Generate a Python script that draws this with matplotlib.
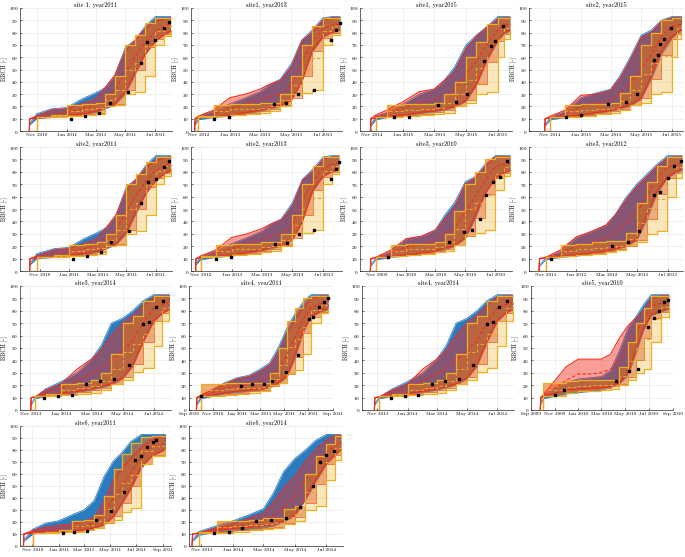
import numpy as np
import matplotlib
matplotlib.use('Agg')
import matplotlib.pyplot as plt
import matplotlib.dates as mdates

plt.rcParams['font.family'] = ['cmr10', 'DejaVu Serif']
plt.rcParams['axes.formatter.use_mathtext'] = True

#-------------------------------------------------------------------------
# data  (days are counted from 1 Sep of the sowing year)
#-------------------------------------------------------------------------

titles = ['site 1, year2011', 'site1, year2013', 'site1, year2015', 'site2, year2015',
          'site2, year2011', 'site2, year2013', 'site3, year2010', 'site3, year2012',
          'site3, year2014', 'site4, year2011', 'site4, year2014', 'site5, year2010',
          'site6, year2011', 'site6, year2014']
season = [2010, 2012, 2014, 2014, 2010, 2012, 2009, 2011, 2013, 2010, 2013, 2009, 2010, 2013]

grids = [
  [46, 47, 61, 91, 122, 153, 181, 200, 220, 242, 262, 282, 303, 320, 334],
  [54, 55, 61, 91, 122, 153, 181, 200, 220, 242, 262, 282, 303, 320, 336],
  [59, 60, 69, 91, 122, 153, 181, 200, 220, 242, 262, 282, 303, 315, 326],
  [50, 51, 61, 91, 122, 153, 181, 200, 220, 242, 262, 282, 303, 313, 322],
  [40, 41, 55, 91, 122, 153, 181, 200, 220, 242, 262, 282, 303, 320, 334],
  [51, 52, 61, 91, 122, 153, 181, 200, 220, 242, 262, 282, 303, 320, 334],
  [49, 50, 60, 91, 122, 153, 181, 200, 220, 242, 262, 282, 303, 320, 333],
  [48, 49, 61, 91, 122, 153, 181, 200, 220, 242, 262, 282, 303, 320, 332],
  [62, 63, 70, 91, 122, 153, 181, 200, 220, 242, 262, 282, 303, 320, 334],
  [19, 20, 30, 91, 122, 153, 181, 205, 228, 250, 270, 290, 310, 335, 354],
  [55, 56, 64, 91, 122, 153, 181, 200, 220, 242, 262, 282, 303, 320, 334],
  [24, 25, 31, 91, 122, 153, 181, 205, 228, 250, 270, 290, 310, 335, 355],
  [40, 41, 62, 91, 122, 153, 181, 205, 228, 250, 270, 290, 315, 340, 371],
  [43, 44, 56, 91, 122, 153, 181, 200, 220, 242, 262, 282, 303, 320, 331],
]
x_from = [27, 47, 39, 19, 20, 42, 28, 28, 41, 0, 30, 0, 32, 37]
x_to   = [337, 340, 330, 325, 337, 340, 337, 334, 337, 366, 337, 366, 384, 335]

tick_std  = [(0, 11), (1, 1), (1, 3), (1, 5), (1, 7)]
tick_long = [(0, 9), (0, 11), (1, 1), (1, 3), (1, 5), (1, 7), (1, 9)]
tick_nov_sep = [(0, 11), (1, 1), (1, 3), (1, 5), (1, 7), (1, 9)]
tick_sets = [tick_std] * 9 + [tick_long, tick_std, tick_long, tick_nov_sep, tick_std]

blue_lo = [
  [4, 5, 10, 11, 12, 13, 15, 18, 21, 30, 46, 62, 73, 78, 81],
  [4, 5, 9, 11, 12, 14, 16, 18, 20, 25, 40, 64, 76, 80, 82],
  [3, 4, 9, 11, 12, 14, 15.5, 17, 19, 24, 37, 57, 73, 79, 81],
  [3, 4, 9, 11, 12, 14, 16, 18, 20, 26, 42, 62, 75, 79, 81],
  [4, 5, 10, 11, 12, 13, 15, 18, 21, 30, 46, 62, 73, 78, 81],
  [4, 5, 9, 11, 12, 14, 16, 18, 20, 25, 40, 64, 76, 80, 82],
  [3, 4, 9, 11, 12, 14, 15.5, 17, 20, 26, 42, 62, 75, 79, 81],
  [3, 4, 9, 11, 12, 14, 15.5, 17, 19.5, 24.5, 41, 62, 75, 79, 81],
  [3, 4, 9, 11, 12.5, 14, 16, 18, 20, 25, 35, 54, 71, 78, 81],
  [3, 4, 9, 13, 14, 15, 16, 18, 21, 27, 42, 62, 75, 79, 81],
  [3, 4, 9, 11, 12.5, 14, 16, 18, 20, 25, 35, 54, 71, 78, 81],
  [3, 4, 9, 13, 14, 15, 16, 18, 21, 28, 45, 64, 76, 79, 81],
  [3, 4, 10, 11.5, 12, 12.5, 13, 14.5, 17.5, 24, 35, 47, 65, 75, 80],
  [3, 4, 9, 11.5, 12.5, 13.5, 15, 16.5, 20, 25, 38, 53, 68, 76, 80],
]
blue_hi = [
  [4, 6, 14, 18, 19, 26, 31, 35, 45, 68, 74, 85, 93, 93, 93],
  [4, 6, 12, 16, 22, 27, 32, 38, 42, 55, 74, 82, 92, 93, 93],
  [3, 5, 12, 15, 22, 30, 34, 41, 52, 70, 78, 85, 93, 93, 93],
  [3, 5, 11, 16, 27, 31, 34, 45, 60, 78, 82, 90, 93, 93, 93],
  [4, 6, 14, 18, 19, 26, 31, 35, 45, 68, 74, 85, 93, 93, 93],
  [4, 6, 12, 16, 22, 27, 32, 38, 42, 55, 74, 82, 92, 93, 93],
  [3, 5, 10, 16, 26, 28, 33, 45, 55, 72, 76, 86, 93, 93, 93],
  [3, 5, 10, 16, 27, 32, 37, 46, 59, 70, 78, 86, 93, 93, 93],
  [3, 5, 10, 17, 23, 30, 41, 52, 70, 74, 80, 88, 93, 93, 93],
  [3, 5, 11, 22, 26, 28, 33, 38, 51, 67, 78, 87, 93, 93, 93],
  [3, 5, 10, 17, 23, 30, 41, 52, 70, 74, 80, 88, 93, 93, 93],
  [3, 5, 12, 22, 25, 26, 27, 32, 48, 66, 75, 85, 93, 93, 93],
  [3, 5, 14, 19, 21, 26, 30, 38, 58, 71, 78, 87, 93, 93, 93],
  [3, 5, 12, 17, 21, 26, 31, 44, 62, 73, 80, 88, 93, 93, 93],
]
red_lo = [
  [0, 10, 10.5, 11.5, 13, 14, 16, 19, 22, 32, 48, 62, 73, 78, 81],
  [0, 10, 10.5, 12, 13, 15, 17, 19, 21, 25, 40, 65, 77, 80, 82],
  [0, 10, 10.5, 12, 13, 15, 16.5, 18, 20, 25, 38, 58, 74, 80, 82],
  [0, 10, 10.5, 12, 13, 15, 17, 19, 21, 27, 45, 65, 77, 80, 82],
  [0, 10, 10.5, 11.5, 13, 14, 16, 19, 22, 32, 48, 62, 73, 78, 81],
  [0, 10, 10.5, 12, 13, 15, 17, 19, 21, 25, 40, 65, 77, 80, 82],
  [0, 10, 10.5, 12, 13, 14.5, 16, 19, 20, 27, 45, 62, 75, 79, 81],
  [0, 10, 10.5, 12, 13, 14.5, 16, 18, 20, 26, 45, 64, 76, 80, 82],
  [0, 10, 10.5, 12, 13.5, 15, 17, 19, 21, 26, 36, 55, 72, 78, 81],
  [0, 10, 10.5, 14, 15, 16, 17, 19, 22, 28, 45, 64, 75, 80, 82],
  [0, 10, 10.5, 12, 13.5, 15, 17, 19, 21, 26, 36, 55, 72, 78, 81],
  [0, 10, 11, 16, 17, 17.5, 18, 19, 22, 30, 48, 66, 77, 80, 82],
  [0, 10, 11, 12, 12.5, 13, 13.5, 15, 18, 25, 36, 48, 66, 75, 81],
  [0, 10, 10.5, 13, 14.5, 15.5, 17, 17.5, 21, 26, 40, 55, 69, 76, 80],
]
red_hi = [
  [0, 10, 12, 17, 18, 22, 26, 35, 45, 65, 74, 83, 89, 91, 92],
  [0, 10, 12, 17, 27, 30, 34, 38, 41, 52, 73, 80, 90, 92, 92],
  [0, 10, 13, 17, 24, 32, 34, 41, 48, 67, 77, 84, 91, 92, 92],
  [0, 10, 12, 17, 29, 30, 33, 43, 57, 76, 80, 89, 92, 92, 92],
  [0, 10, 12, 17, 18, 22, 26, 35, 45, 65, 74, 83, 89, 91, 92],
  [0, 10, 12, 17, 27, 30, 34, 38, 41, 52, 73, 80, 90, 92, 92],
  [0, 10, 11, 17, 26, 28, 33, 42, 51, 70, 75, 84, 92, 92, 92],
  [0, 10, 11, 17, 27.5, 32, 37, 45, 57, 68, 76, 84, 91, 92, 92],
  [0, 10, 10.5, 16, 21, 33, 41, 48, 60, 70, 76, 84, 91, 92, 92],
  [0, 10, 12, 21, 25, 27, 31, 36, 47, 62, 73, 82, 90, 92, 92],
  [0, 10, 10.5, 16, 21, 33, 41, 48, 60, 70, 76, 84, 91, 92, 92],
  [0, 10, 12, 35, 41, 41, 41, 45, 58, 68, 74, 80, 90, 92, 92],
  [0, 10, 13, 15.5, 17, 18.5, 20, 24, 37, 55, 65, 73, 82, 89, 92],
  [0, 10, 11, 15, 18, 23, 27, 36, 48, 58, 70, 80, 88, 92, 92],
]
red_mid = [
  [0, 10, 11, 14, 15.5, 18, 21, 27, 33, 48, 61, 72, 81, 85, 87],
  [0, 10, 11, 14.5, 18, 22, 25, 28, 30, 37, 57, 72, 83, 86, 87],
  [0, 10, 11.5, 14.5, 18.5, 23, 25, 29, 34, 46, 57, 71, 82, 86, 87],
  [0, 10, 11, 14, 20, 22.5, 25, 31, 39, 51, 62, 77, 85, 86, 87],
  [0, 10, 11, 14, 15.5, 18, 21, 27, 33, 48, 61, 72, 81, 85, 87],
  [0, 10, 11, 14.5, 18, 22, 25, 28, 30, 37, 57, 72, 83, 86, 87],
  [0, 10, 11, 14.5, 19.5, 21, 24.5, 30, 35, 47, 60, 73, 84, 86, 87],
  [0, 10, 11, 14.5, 20, 23, 26.5, 31.5, 38.5, 47, 61, 74, 84, 86, 87],
  [0, 10, 10.5, 14, 17.5, 24, 29, 33.5, 40, 48, 56, 70, 82, 85, 87],
  [0, 10, 11, 17.5, 20, 21.5, 24, 27.5, 34, 45, 59, 73, 83, 86, 87],
  [0, 10, 10.5, 14, 17.5, 24, 29, 33.5, 40, 48, 56, 70, 82, 85, 87],
  [0, 10, 11.5, 24, 29, 29, 30, 33, 40, 50, 62, 73, 84, 86, 87],
  [0, 10, 12, 13.5, 14.5, 15.5, 16.5, 19, 27, 40, 50, 61, 74, 82, 86],
  [0, 10, 11, 14, 16, 19, 21.5, 25, 32, 41, 55, 67, 78, 84, 86],
]
ye_lo = [
  [0, 0, 11, 11.5, 12, 13, 14, 20, 21, 30, 32, 45, 70, 77, 82],
  [0, 0, 11, 12, 13, 14, 15, 16, 20, 30, 31, 33, 70, 78, 82],
  [0, 0, 11, 11, 12, 13, 14, 15, 20, 23, 30, 32, 60, 75, 81],
  [0, 0, 11, 11, 12, 14, 15, 17, 21, 23, 30, 32, 60, 75, 81],
  [0, 0, 11, 11.5, 12, 13, 14, 20, 21, 30, 32, 45, 70, 77, 82],
  [0, 0, 11, 12, 13, 14, 15, 16, 20, 30, 31, 33, 70, 78, 82],
  [0, 0, 11, 12, 13, 14, 15, 16, 21, 30, 31, 33, 65, 77, 81],
  [0, 0, 11, 12, 13, 14, 15, 17, 21, 23, 30, 32, 60, 75, 81],
  [0, 0, 11, 11.5, 12, 13, 14, 16, 21, 24, 31, 34, 52, 72, 81],
  [0, 0, 11, 12, 13, 14, 15, 20, 22, 30, 32, 45, 70, 78, 82],
  [0, 0, 11, 11.5, 12, 13, 14, 16, 21, 24, 31, 34, 52, 72, 81],
  [0, 0, 11, 14, 15, 15.5, 16, 17, 20, 24, 30, 33, 55, 75, 82],
  [0, 0, 11, 11, 11.5, 12, 13, 15, 20, 22, 28, 32, 68, 75, 81],
  [0, 0, 11, 11, 12, 13, 14, 15, 18, 21, 30, 33, 55, 72, 80],
]
ye_hi = [
  [0, 0, 11, 13, 21, 22, 23, 30, 45, 70, 78, 88, 92, 92, 92],
  [0, 0, 12, 21, 22, 22, 23, 23, 30, 45, 70, 85, 92, 92, 92],
  [0, 0, 11, 21, 22, 22, 23, 30, 40, 60, 72, 87, 92, 92, 92],
  [0, 0, 11, 21, 22, 22, 23, 31, 45, 70, 80, 90, 92, 92, 92],
  [0, 0, 11, 13, 21, 22, 23, 30, 45, 70, 78, 88, 92, 92, 92],
  [0, 0, 12, 21, 22, 22, 23, 23, 30, 45, 70, 85, 92, 92, 92],
  [0, 0, 11, 21, 22, 22, 23, 30, 48, 70, 80, 90, 92, 92, 92],
  [0, 0, 11, 21, 22, 23, 24, 24, 31, 55, 72, 85, 92, 92, 92],
  [0, 0, 11, 13, 21, 22, 24, 30, 45, 70, 76, 88, 92, 92, 92],
  [0, 0, 21, 22, 22, 22, 22, 30, 50, 72, 82, 90, 92, 92, 92],
  [0, 0, 11, 13, 21, 22, 24, 30, 45, 70, 76, 88, 92, 92, 92],
  [0, 0, 22, 23, 24, 24, 24, 24, 35, 55, 70, 82, 92, 92, 92],
  [0, 0, 11, 12, 13, 21, 22, 26, 42, 64, 77, 86, 91, 92, 92],
  [0, 0, 12, 21, 21, 22, 23, 23, 31, 33, 60, 75, 85, 92, 92],
]
ye_mid = [
  [0, 0, 11, 12, 16.5, 17.5, 18.5, 25, 33, 50, 55, 69, 81, 85, 87],
  [0, 0, 11.5, 16, 17.5, 18, 19, 20, 25, 37, 50, 59, 81, 85, 87],
  [0, 0, 11, 16, 17, 17.5, 18.5, 22.5, 30, 41.5, 51, 60, 76, 84, 87],
  [0, 0, 11, 16, 17, 18, 19, 24, 33, 46, 55, 61, 76, 84, 87],
  [0, 0, 11, 12, 16.5, 17.5, 18.5, 25, 33, 50, 55, 69, 81, 85, 87],
  [0, 0, 11.5, 16, 17.5, 18, 19, 20, 25, 37, 50, 59, 81, 85, 87],
  [0, 0, 11, 16.5, 17.5, 18, 19, 23, 34, 50, 55, 61, 78, 84, 87],
  [0, 0, 11, 16.5, 17.5, 18.5, 19.5, 20.5, 26, 39, 51, 58, 76, 84, 87],
  [0, 0, 11, 12, 16.5, 17.5, 19, 23, 33, 47, 53, 61, 72, 82, 87],
  [0, 0, 16, 17, 17.5, 18, 18.5, 25, 36, 51, 57, 67, 81, 85, 87],
  [0, 0, 11, 12, 16.5, 17.5, 19, 23, 33, 47, 53, 61, 72, 82, 87],
  [0, 0, 16.5, 18.5, 19.5, 20, 20, 20.5, 27.5, 39.5, 50, 57.5, 73, 83, 87],
  [0, 0, 11, 11.5, 12, 16.5, 17.5, 20.5, 31, 43, 52.5, 59, 79.5, 83.5, 86.5],
  [0, 0, 11.5, 16, 16.5, 17.5, 18.5, 19, 24.5, 27, 45, 54, 70, 82, 86],
]
or_lo = [
  [0, 0, 11, 12, 13, 14, 15, 20, 22, 33, 50, 68, 75, 79, 81],
  [0, 0, 11, 12, 13.5, 14.5, 16, 18, 21, 27, 45, 65, 76, 80, 82],
  [0, 0, 11, 12, 13, 14, 15.5, 17, 20, 25, 38, 56, 73, 79, 81],
  [0, 0, 11, 12, 13, 14.5, 16, 18, 21, 27, 42, 62, 75, 79, 81],
  [0, 0, 11, 12, 13, 14, 15, 20, 22, 33, 50, 68, 75, 79, 81],
  [0, 0, 11, 12, 13.5, 14.5, 16, 18, 21, 27, 45, 65, 76, 80, 82],
  [0, 0, 11, 12, 13, 14.5, 16, 18, 21, 28, 43, 62, 75, 79, 81],
  [0, 0, 11, 12, 13, 14.5, 16, 17.5, 20, 25, 42, 62, 75, 79, 81],
  [0, 0, 11, 12, 13, 14.5, 16, 18, 21, 27, 37, 55, 72, 78, 81],
  [0, 0, 11, 13, 14, 15, 16, 19, 22, 29, 43, 62, 75, 79, 81],
  [0, 0, 11, 12, 13, 14.5, 16, 18, 21, 27, 37, 55, 72, 78, 81],
  [0, 0, 11, 15, 16, 17, 18, 19, 21, 27, 40, 58, 74, 79, 81],
  [0, 0, 11, 11.5, 12, 12.5, 13.5, 15, 19, 25, 36, 50, 68, 76, 81],
  [0, 0, 11, 12, 13, 14, 15, 16, 19, 24, 36, 52, 68, 76, 80],
]
obs_day = [
  [131, 159, 189, 210, 247, 273, 287, 303, 321, 330],
  [91, 120, 208, 232, 255, 285, 319, 328, 336],
  [105, 133, 188, 222, 244, 277, 290, 298, 312],
  [93, 122, 176, 212, 233, 267, 275, 280, 288, 302],
  [131, 159, 189, 210, 247, 273, 287, 303, 321, 330],
  [91, 120, 208, 232, 255, 285, 319, 328, 334],
  [85, 208, 239, 256, 272, 285, 298, 312, 327],
  [72, 192, 225, 246, 276, 288, 305, 317, 331],
  [88, 116, 143, 171, 198, 226, 255, 282, 294, 307, 322],
  [30, 132, 160, 190, 211, 247, 277, 304, 316, 331, 344, 353],
  [88, 116, 143, 171, 198, 226, 255, 282, 294, 307, 322],
  [61, 85, 219, 253, 277, 302, 316, 331, 342, 353],
  [133, 159, 188, 210, 245, 274, 301, 315, 328, 341, 348],
  [85, 114, 139, 167, 195, 224, 252, 276, 290, 303, 318],
]
obs_val = [
  [10, 12, 15, 23, 32, 55, 72, 74, 84, 89],
  [10, 11.5, 22, 22.5, 30, 33, 74, 82, 88],
  [11, 11.5, 21, 23.5, 30, 57, 69.5, 73, 85],
  [11.5, 13, 22, 23.5, 30, 58, 62, 71, 75, 84],
  [10, 12, 15, 23, 32, 55, 72, 74, 84, 89],
  [10, 11.5, 22, 22.5, 30, 33, 74, 82, 88],
  [11, 23.5, 31.5, 33, 42, 61, 71.5, 76, 89],
  [10, 20, 23, 32, 61, 64, 75, 85, 89],
  [10, 11, 12, 21, 23, 25, 36, 69, 71, 83, 88],
  [11, 19, 21, 21, 23, 31, 44, 73, 75, 83, 87, 90],
  [10, 11, 12, 21, 23, 25, 36, 69, 71, 83, 88],
  [12, 16, 23, 31.5, 33, 67, 74, 80, 87, 88.5],
  [11, 11.5, 12.5, 21.5, 29, 45, 72, 75, 82.5, 86.5, 88.5],
  [11, 11.5, 15, 21, 21.5, 23, 32.5, 50, 70, 75.5, 79.5],
]

# axes boxes in pixels of the 685x557 canvas: left, top, right, bottom
boxes = [
  (20, 8, 172, 131), (191, 8, 342, 131), (360, 8, 512, 131), (529, 8, 683, 131),
  (20, 147, 172, 271), (191, 147, 342, 271), (360, 147, 512, 271), (529, 147, 683, 271),
  (20, 286, 171, 410), (189, 286, 333, 410), (362, 286, 514, 410), (531, 286, 673, 410),
  (20, 426, 171, 546), (189, 426, 343, 546),
]

C_BLUE = '#2c7bbf'
C_RED = '#f52a1a'
C_YEL = '#EDB120'
C_ORA = '#D95319'

W, H = 685, 557
fig = plt.figure(figsize=(W / 100, H / 100), dpi=100)

for i, (l, t, r, b) in enumerate(boxes):
  ax = fig.add_axes([l / W, 1 - b / H, (r - l) / W, (b - t) / H])
  d0 = np.datetime64(f'{season[i]}-09-01')
  x = d0 + np.array(grids[i]).astype('timedelta64[D]')

  ax.fill_between(x, blue_lo[i], blue_hi[i], color=C_BLUE, lw=0, zorder=1)
  ax.plot(x, blue_hi[i], color=C_BLUE, lw=0.6, zorder=1)
  ax.fill_between(x, red_lo[i], red_hi[i], color=C_RED, alpha=0.45, lw=0, zorder=2)
  ax.fill_between(x, ye_lo[i], ye_hi[i], step='post', color=C_YEL, alpha=0.3, lw=0, zorder=3)
  ax.fill_between(x, or_lo[i], ye_hi[i], step='post', color=C_ORA, alpha=0.4, lw=0, zorder=4)

  ax.plot(x, red_lo[i], color=C_RED, lw=0.8, zorder=5)
  ax.plot(x, red_hi[i], color=C_RED, lw=0.8, zorder=5)
  ax.plot(x, red_mid[i], color=C_RED, lw=0.8, ls=(0, (3, 2)), zorder=5)
  ax.plot(x, or_lo[i], color='#ec6a28', lw=0.6, drawstyle='steps-post', zorder=6)
  ax.plot(x, ye_lo[i], color=C_YEL, lw=0.9, drawstyle='steps-post', zorder=6)
  ax.plot(x, ye_hi[i], color=C_YEL, lw=0.9, drawstyle='steps-post', zorder=6)
  ax.plot(x, ye_mid[i], color='#f0a030', lw=0.8, ls=(0, (3, 2)),
          drawstyle='steps-post', zorder=6)

  od = d0 + np.array(obs_day[i]).astype('timedelta64[D]')
  ax.plot(od, obs_val[i], 's', ms=2.0, color='k', zorder=8)

  ax.set_xlim(d0 + np.timedelta64(x_from[i], 'D'), d0 + np.timedelta64(x_to[i], 'D'))
  ax.set_ylim(0, 100)
  ax.set_yticks(np.arange(0, 101, 10))
  ticks = [np.datetime64(f'{season[i] + yo}-{m:02d}-01') for yo, m in tick_sets[i]]
  ax.set_xticks(ticks)
  ax.xaxis.set_major_formatter(mdates.DateFormatter('%b %Y'))
  ax.grid(color='#e4e4e4', lw=0.4, zorder=0)
  ax.set_axisbelow(True)
  ax.spines['top'].set_visible(False)
  ax.spines['right'].set_visible(False)
  for s in ('left', 'bottom'):
    ax.spines[s].set_linewidth(0.5)
    ax.spines[s].set_color('#262626')
  ax.tick_params(labelsize=3.7, length=1.5, width=0.4, pad=1.2, direction='in')
  ax.set_ylabel('BBCH [-]', fontsize=4.2, labelpad=1)
  ax.set_title(titles[i], fontsize=4.5, pad=1)

fig.savefig('out.png', dpi=100)
